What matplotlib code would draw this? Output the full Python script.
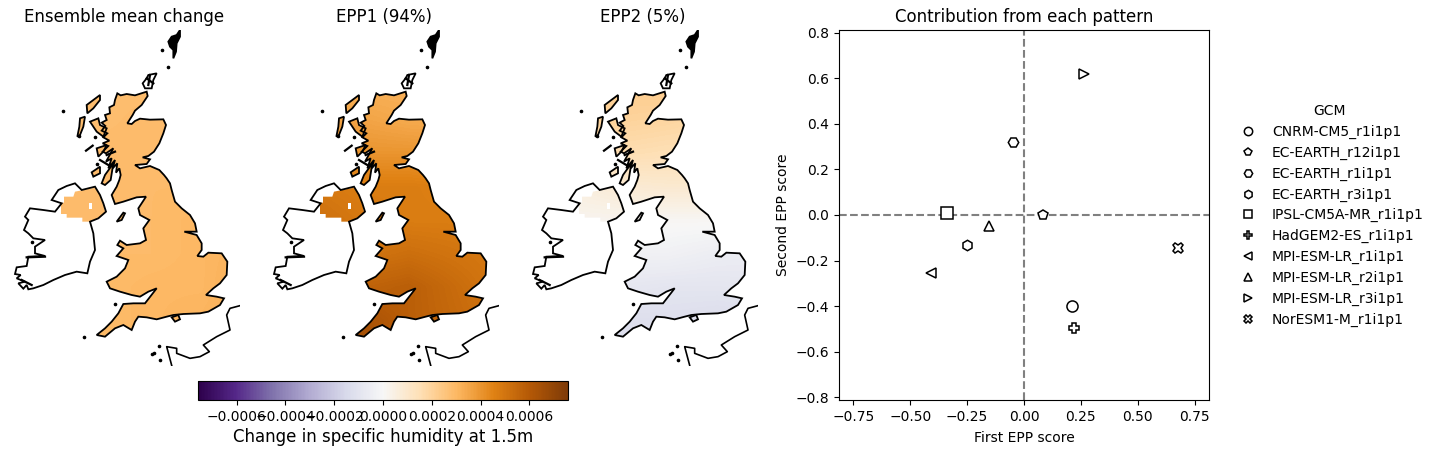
import numpy as np
import matplotlib
matplotlib.use("Agg")
import matplotlib.pyplot as plt
from matplotlib.path import Path
from matplotlib.patches import PathPatch, Polygon
from matplotlib.lines import Line2D

W, H = 1440, 454
VMAX = 7.58e-4

titles = ["Ensemble mean change", "EPP1 (94%)", "EPP2 (5%)"]

# coastlines, in map units
gb = [(352,220),(362,226),(380,222),(405,226),(440,215),(443,228),(425,255),(405,272),(398,285),(382,310),(395,312),(405,303),(420,296),(450,299),(490,298),(498,315),(490,340),(478,370),(462,395),(445,408),(428,412),(450,418),(440,432),(405,435),(420,445),(450,438),(478,450),(492,465),(500,475),(510,490),(515,510),(525,545),(545,565),(570,585),(585,610),(590,635),(553,635),(590,645),(605,670),(605,690),(592,708),(610,710),(625,698),(665,700),(682,725),(680,765),(660,790),(640,805),(618,825),(650,830),(672,835),(660,855),(625,875),(600,880),(550,882),(520,885),(500,890),(470,898),(440,892),(415,890),(405,905),(395,930),(370,915),(345,925),(315,950),(290,945),(315,925),(335,905),(355,880),(370,852),(400,850),(435,850),(470,805),(445,815),(420,830),(395,825),(360,815),(330,805),(320,785),(350,770),(375,745),(385,720),(350,708),(370,685),(352,675),(360,662),(380,675),(420,670),(438,660),(430,625),(448,600),(420,585),(415,565),(438,530),(410,532),(370,545),(345,552),(335,525),(350,500),(358,480),(362,465),(358,445),(348,458),(352,430),(338,445),(345,420),(325,445),(335,415),(318,425),(340,385),(318,400),(308,395),(325,378),(308,370),(328,362),(310,352),(322,340),(305,332),(316,318),(305,308),(320,300),(315,285),(330,280),(328,262),(342,255),(345,240)]
ireland = [(225,490),(245,510),(285,500),(300,525),(310,550),(318,575),(295,595),(270,605),(280,640),(285,690),(270,725),(262,760),(230,755),(195,765),(160,780),(130,795),(100,805),(85,808),(80,795),(70,806),(55,790),(75,785),(50,775),(62,765),(45,762),(50,742),(80,738),(85,710),(135,708),(105,700),(105,680),(135,660),(100,655),(85,640),(72,630),(85,600),(75,590),(90,565),(130,570),(165,575),(185,550),(155,540),(175,510),(200,498)]
ni_cells = [(192,530),(220,530),(225,515),(285,503),(300,525),(312,560),(316,580),(295,595),(270,605),(247,605),(247,593),(200,593),(200,582),(183,582),(183,548),(192,548)]
ni_gap = [(267,550),(276,550),(276,568),(267,568)]
islands = [
    [(445,165),(470,160),(460,180),(455,205),(435,205),(428,190),(440,175)],
    [(260,255),(300,225),(300,240),(280,265),(262,280)],
    [(240,295),(255,290),(250,320),(240,345),(232,350),(238,320)],
    [(270,305),(295,295),(300,315),(320,325),(310,350),(290,335)],
    [(290,385),(320,375),(310,395),(295,410)],
    [(275,457),(300,440),(300,460),(280,470)],
    [(315,465),(340,430),(332,480),(315,495),(305,490)],
    [(350,605),(370,578),(375,580),(365,600)],
    [(515,892),(535,885),(540,898),(525,905)],
]
shetland = [(540,30),(530,45),(515,50),(505,65),(510,80),(520,90),(520,115),(528,95),(530,70),(540,50)]
rocks = [(190,273),(485,90),(505,142),(252,952),(345,852),(237,347),(462,998),(455,1001),(480,1020),(478,978),(290,432),(285,350),(95,665)]
sea_lochs = [[(258,392),(278,377)],[(440,175),(460,190)],[(450,165),(445,195)],[(320,405),(345,395)],[(300,420),(325,435)],[(80,712),(135,710)],[(65,780),(95,795)]]
france = [(720,857),(690,865),(680,885),(690,930),(650,950),(610,975),(628,995),(600,1010),(570,1015),(530,1000),(530,985),(500,980),(515,1036)]

# field samples, units of 1e-4, on a coarse map grid
grid_x = [150, 300, 450, 600, 750]
grid_y = [200, 300, 400, 500, 600, 700, 800, 900, 1000]
ensemble = [[2.8,2.8,2.8,2.8,2.8],[2.8,2.8,2.9,2.9,2.9],[2.9,2.9,2.9,2.9,2.9],[2.9,2.9,2.9,2.9,3.0],[2.9,2.9,2.9,3.0,3.0],[2.9,2.9,2.9,3.0,3.2],[2.9,2.9,3.0,3.0,3.3],[2.9,2.9,3.0,3.1,3.3],[2.9,2.9,3.0,3.1,3.3]]
epp1 = [[3.2,3.2,3.2,3.2,3.2],[3.6,3.6,3.4,3.4,3.4],[4.0,4.0,4.0,3.8,3.8],[4.9,4.7,4.7,4.6,4.6],[5.2,4.9,4.7,4.7,4.7],[5.2,5.0,5.2,5.0,4.8],[5.2,5.6,5.8,5.3,4.8],[5.2,6.4,5.8,5.4,5.0],[5.2,6.4,5.8,5.4,5.0]]
epp2 = [[2.2,2.2,2.3,2.4,2.4],[2.0,2.0,1.9,1.7,1.7],[1.6,1.6,1.5,1.5,1.5],[0.5,0.8,0.9,0.9,0.9],[0.2,0.2,0.1,0.1,0.1],[-0.3,-0.3,-0.3,-0.5,-0.6],[-0.8,-0.8,-0.9,-0.9,-0.8],[-1.2,-1.2,-1.2,-1.3,-1.2],[-1.3,-1.3,-1.3,-1.3,-1.3]]
fields = [ensemble, epp1, epp2]

score_models = ["CNRM-CM5_r1i1p1","EC-EARTH_r12i1p1","EC-EARTH_r1i1p1","EC-EARTH_r3i1p1","IPSL-CM5A-MR_r1i1p1","HadGEM2-ES_r1i1p1","MPI-ESM-LR_r1i1p1","MPI-ESM-LR_r2i1p1","MPI-ESM-LR_r3i1p1","NorESM1-M_r1i1p1"]
score_first = [0.21, 0.085, -0.05, -0.25, -0.34, 0.22, -0.41, -0.155, 0.265, 0.675]
score_second = [-0.40, 0.0, 0.32, -0.13, 0.01, -0.495, -0.255, -0.05, 0.62, -0.145]
score_markers = ["o","p","H","h","s","P","<","^",">","X"]

cbar_ticks = [-0.0006,-0.0004,-0.0002,0.0,0.0002,0.0004,0.0006]


def px_axes(fig, x0, y0, x1, y1, **kw):
    return fig.add_axes([x0 / W, 1 - y1 / H, (x1 - x0) / W, (y1 - y0) / H], **kw)


fig = plt.figure(figsize=(W / 100, H / 100), dpi=100)
cmap = plt.get_cmap("PuOr_r")
panel_left = [9, 268, 527]
im = None
for i, left in enumerate(panel_left):
    ax = px_axes(fig, left, 30, left + 231, 366)
    ax.axis("off")
    ax.set_title(titles[i], fontsize=12, pad=6)
    parts = [Path(np.array(p + [p[0]], float), closed=True) for p in [gb, ni_cells] + islands[1:]]
    clip = PathPatch(Path.make_compound_path(*parts), transform=ax.transData, fc="none", ec="none")
    ax.add_patch(clip)
    im = ax.imshow(np.array(fields[i]) * 1e-4, cmap=cmap, vmin=-VMAX, vmax=VMAX, interpolation="bilinear",
                   extent=[grid_x[0] - 75, grid_x[-1] + 75, grid_y[-1] + 50, grid_y[0] - 50], aspect="auto")
    ax.set_xlim(27, 720)
    ax.set_ylim(1038, 30)
    im.set_clip_path(clip)
    ax.add_patch(Polygon(ni_gap, fc="white", ec="none"))
    for poly in [gb, ireland] + islands:
        ax.add_patch(Polygon(poly, fill=False, ec="black", lw=1.3))
    ax.add_patch(Polygon(shetland, fc="black", ec="black", lw=1.3))
    ax.plot(*zip(*france), color="black", lw=1.2)
    for stroke in sea_lochs:
        ax.plot(*zip(*stroke), color="black", lw=1.6)
    ax.plot(*zip(*rocks), ls="none", marker="o", ms=1.6, color="black")

cax = px_axes(fig, 198, 381, 568, 400)
cb = fig.colorbar(im, cax=cax, orientation="horizontal", ticks=cbar_ticks)
cb.ax.set_xticklabels([f"{t:.4f}".replace("-", "\u2212") for t in cbar_ticks])
cb.set_label("Change in specific humidity at 1.5m", fontsize=12, labelpad=3)

ax = px_axes(fig, 839, 30, 1209, 400)
ax.axhline(0, color="grey", ls="--", lw=1.5)
ax.axvline(0, color="grey", ls="--", lw=1.5)
sizes = {"s": 8.0, "o": 8.0, "p": 7.5, "X": 7.5}
for x, y, m, name in zip(score_first, score_second, score_markers, score_models):
    ax.plot([x], [y], marker=m, ls="none", mfc="white", mec="black", mew=1.1, ms=sizes.get(m, 7.5), zorder=3)
ax.set_xlim(-0.813, 0.813)
ax.set_ylim(-0.813, 0.813)
ax.set_xticks([-0.75,-0.5,-0.25,0,0.25,0.5,0.75])
ax.set_yticks([-0.8,-0.6,-0.4,-0.2,0,0.2,0.4,0.6,0.8])
ax.set_xlabel("First EPP score", labelpad=5)
ax.set_ylabel("Second EPP score")
ax.set_title("Contribution from each pattern", fontsize=12, pad=6)
handles = [Line2D([], [], marker=m, ls="none", mfc="white", mec="black", mew=1.1, ms=6) for m in score_markers]
fig.legend(handles, score_models, title="GCM", frameon=False, loc="center left",
           bbox_to_anchor=(1222 / W, 1 - 215.5 / H), fontsize=10, title_fontsize=10, labelspacing=0.49, handletextpad=0.7)
fig.savefig("out.png", dpi=100)
